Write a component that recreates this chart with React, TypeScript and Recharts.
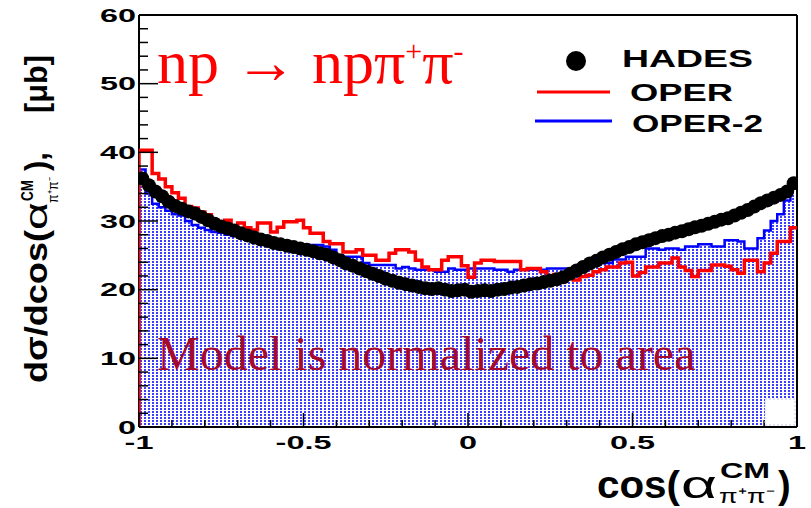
import React from 'react';
import { ComposedChart, Area, Line, Scatter, XAxis, YAxis, ReferenceLine } from 'recharts';

// Bin edges of cos(alpha) histograms (100 bins, width 0.02)
const binEdges = [
  -1.0, -0.98, -0.96, -0.94, -0.92, -0.9, -0.88, -0.86, -0.84, -0.82,
  -0.8, -0.78, -0.76, -0.74, -0.72, -0.7, -0.68, -0.66, -0.64, -0.62,
  -0.6, -0.58, -0.56, -0.54, -0.52, -0.5, -0.48, -0.46, -0.44, -0.42,
  -0.4, -0.38, -0.36, -0.34, -0.32, -0.3, -0.28, -0.26, -0.24, -0.22,
  -0.2, -0.18, -0.16, -0.14, -0.12, -0.1, -0.08, -0.06, -0.04, -0.02,
  0.0, 0.02, 0.04, 0.06, 0.08, 0.1, 0.12, 0.14, 0.16, 0.18,
  0.2, 0.22, 0.24, 0.26, 0.28, 0.3, 0.32, 0.34, 0.36, 0.38,
  0.4, 0.42, 0.44, 0.46, 0.48, 0.5, 0.52, 0.54, 0.56, 0.58,
  0.6, 0.62, 0.64, 0.66, 0.68, 0.7, 0.72, 0.74, 0.76, 0.78,
  0.8, 0.82, 0.84, 0.86, 0.88, 0.9, 0.92, 0.94, 0.96, 0.98,
  1.0,
];

// HADES data points (one per bin), microbarn
const hadesValues = [
  36.2, 35.2, 34.3, 33.6, 32.8, 32.2, 31.8, 31.4, 31.1, 30.6,
  30.1, 29.6, 29.2, 28.9, 28.6, 28.2, 27.9, 27.6, 27.3, 27.1,
  26.8, 26.6, 26.4, 26.2, 26.0, 25.8, 25.6, 25.3, 25.1, 24.7,
  24.3, 23.8, 23.5, 23.1, 22.7, 22.3, 22.0, 21.6, 21.3, 21.0,
  20.8, 20.6, 20.4, 20.2, 20.1, 20.2, 20.0, 19.8, 19.9, 20.0,
  19.7, 19.8, 19.9, 19.8, 20.0, 20.1, 20.3, 20.4, 20.6, 20.8,
  20.9, 21.1, 21.3, 21.5, 21.8, 22.3, 22.8, 23.3, 23.8, 24.2,
  24.7, 25.1, 25.5, 25.9, 26.2, 26.6, 26.9, 27.2, 27.5, 27.8,
  28.0, 28.3, 28.5, 28.8, 29.1, 29.3, 29.6, 29.9, 30.2, 30.4,
  30.8, 31.2, 31.6, 32.1, 32.6, 33.0, 33.4, 33.8, 34.3, 35.5,
];

// OPER model histogram
const operValues = [
  40.3, 40.3, 36.9, 36.1, 35.0, 34.1, 33.3, 32.1, 31.9, 31.3,
  30.9, 30.1, 29.9, 30.1, 29.0, 29.7, 29.0, 28.7, 29.7, 29.7,
  28.4, 29.1, 29.9, 29.9, 30.1, 29.0, 28.2, 28.2, 27.0, 26.7,
  26.7, 25.5, 25.5, 25.8, 25.0, 25.0, 24.3, 24.3, 25.3, 25.8,
  25.8, 25.5, 24.3, 23.3, 22.9, 22.9, 24.3, 24.8, 24.8, 23.5,
  21.8, 23.9, 24.3, 24.3, 24.1, 24.1, 24.1, 24.1, 22.9, 23.1,
  23.1, 22.6, 21.9, 22.2, 21.9, 21.7, 21.4, 21.9, 22.1, 22.6,
  22.9, 23.3, 23.3, 23.9, 24.0, 22.0, 22.5, 23.3, 23.3, 23.9,
  23.9, 24.6, 23.3, 22.8, 21.9, 22.8, 22.8, 23.6, 23.6, 23.4,
  22.9, 22.4, 24.3, 24.3, 22.6, 23.9, 25.3, 27.0, 27.0, 29.0,
];

// OPER-2 model histogram
const oper2Values = [
  37.5, 34.0, 32.5, 32.0, 31.5, 31.0, 30.8, 30.0, 29.4, 29.0,
  28.7, 28.4, 28.3, 28.0, 27.8, 27.6, 27.5, 27.2, 27.0, 26.9,
  26.8, 26.6, 26.5, 26.5, 26.4, 26.5, 26.5, 26.5, 26.3, 25.8,
  25.0, 24.8, 24.8, 24.8, 23.9, 23.6, 23.6, 23.6, 23.6, 23.1,
  23.3, 23.1, 22.9, 22.9, 22.9, 22.6, 22.6, 23.1, 22.9, 22.9,
  23.1, 23.1, 23.1, 23.1, 22.9, 22.9, 22.6, 22.9, 22.9, 22.9,
  22.9, 22.9, 23.1, 23.1, 23.1, 22.9, 22.9, 23.3, 23.3, 23.9,
  23.9, 23.9, 24.4, 24.4, 24.8, 24.8, 24.8, 26.0, 26.0, 25.8,
  26.0, 26.0, 25.8, 26.3, 26.3, 26.6, 26.6, 26.3, 26.3, 27.2,
  27.2, 27.0, 26.0, 26.0, 27.5, 28.6, 30.0, 31.0, 33.0, 35.8,
];

const xTicks = [
  -1, -0.9, -0.8, -0.7, -0.6, -0.5, -0.4, -0.3, -0.2, -0.1,
  0, 0.1, 0.2, 0.3, 0.4, 0.5, 0.6, 0.7, 0.8, 0.9, 1,
];
const yTicks = [
  0, 2, 4, 6, 8, 10, 12, 14, 16, 18, 20, 22, 24, 26, 28, 30,
  32, 34, 36, 38, 40, 42, 44, 46, 48, 50, 52, 54, 56, 58, 60,
];

const W = 811;
const H = 508;
const PLOT_LEFT = 139;
const PLOT_BOTTOM = 427;
const SANS = '"Liberation Sans", Arial, Helvetica, sans-serif';
const SERIF = '"Liberation Serif", "Times New Roman", serif';

// step histograms: a leading zero row gives the vertical edge at x = -1
const histRows = [
  { x: binEdges[0], oper: 0 },
  ...operValues.map((v, i) => ({ x: binEdges[i], oper: v, oper2: oper2Values[i] })),
  { x: binEdges[100], oper: operValues[99], oper2: oper2Values[99] },
];

const hadesRows = hadesValues.map((v, i) => ({
  x: (binEdges[i] + binEdges[i + 1]) / 2,
  hades: v,
}));

function XTick(props: any) {
  const { x, payload } = props;
  const v = payload.value as number;
  const major = Math.abs(v * 2 - Math.round(v * 2)) < 1e-6;
  return (
    <g>
      <line x1={x} x2={x} y1={PLOT_BOTTOM} y2={PLOT_BOTTOM - (major ? 14 : 7)} stroke="#000" strokeWidth={1.5} />
      {major && (
        <text
          transform={`translate(${x},449) scale(1.8,1)`}
          textAnchor="middle"
          fontFamily={SANS}
          fontWeight="bold"
          fontSize={18}
          fill="#000"
        >
          {String(v)}
        </text>
      )}
    </g>
  );
}

function YTick(props: any) {
  const { y, payload } = props;
  const v = payload.value as number;
  const major = v % 10 === 0;
  return (
    <g>
      <line x1={PLOT_LEFT} x2={PLOT_LEFT + (major ? 19 : 9)} y1={y} y2={y} stroke="#000" strokeWidth={1.5} />
      {major && (
        <text
          transform={`translate(136,${y + 6.5}) scale(1.8,1)`}
          textAnchor="end"
          fontFamily={SANS}
          fontWeight="bold"
          fontSize={18}
          fill="#000"
        >
          {String(v)}
        </text>
      )}
    </g>
  );
}

const renderDot = (p: any) => <circle cx={p.cx} cy={p.cy} r={7} fill="#000" />;

export default function App() {
  return (
    <div style={{ position: 'absolute', left: 0, top: 0, width: W, height: H, background: '#fff' }}>
      <ComposedChart width={W} height={H} data={histRows} margin={{ top: 15, right: 14, bottom: 0, left: 0 }}>
        <defs>
          <pattern id="blueDots" width="4" height="3" patternUnits="userSpaceOnUse">
            <rect width="4" height="3" fill="#ffffff" />
            <rect x="0" y="0" width="2" height="2" fill="#3c3cff" />
          </pattern>
        </defs>
        <XAxis
          type="number"
          dataKey="x"
          domain={[-1, 1]}
          ticks={xTicks}
          interval={0}
          tick={<XTick />}
          tickLine={false}
          axisLine={{ stroke: '#000', strokeWidth: 2 }}
          height={81}
          allowDataOverflow
        />
        <YAxis
          type="number"
          domain={[0, 60]}
          ticks={yTicks}
          interval={0}
          tick={<YTick />}
          tickLine={false}
          axisLine={false}
          width={139}
          allowDataOverflow
        />
        {/* frame: left edge (under the OPER histogram), top and right */}
        <ReferenceLine x={-1} stroke="#000" strokeWidth={2} />
        <ReferenceLine y={60} stroke="#000" strokeWidth={2} />
        <ReferenceLine x={1} stroke="#000" strokeWidth={2} />
        <Area
          type="stepAfter"
          dataKey="oper2"
          stroke="#0000ff"
          strokeWidth={2.5}
          fill="url(#blueDots)"
          fillOpacity={1}
          baseValue={0}
          connectNulls
          dot={false}
          activeDot={false}
          isAnimationActive={false}
        />
        <Scatter data={hadesRows} dataKey="hades" shape={renderDot} isAnimationActive={false} />
        <Line
          type="stepAfter"
          dataKey="oper"
          stroke="#ff0000"
          strokeWidth={3.5}
          dot={false}
          activeDot={false}
          connectNulls
          isAnimationActive={false}
        />
      </ComposedChart>

      <svg width={W} height={H} style={{ position: 'absolute', left: 0, top: 0, pointerEvents: 'none' }}>
        {/* small blank box in the lower right corner of the frame */}
        <rect x={765} y={399} width={30} height={26} fill="#ffffff" stroke="#c8c8e8" strokeWidth={1} strokeDasharray="2 2" />

        {/* reaction */}
        <text x={157} y={83} fontFamily={SERIF} fontSize={62} fill="#ff0000">
          np → npπ
          <tspan fontSize={30} dy={-22}>+</tspan>
          <tspan fontSize={62} dy={22}>π</tspan>
          <tspan fontSize={30} dy={-22}>-</tspan>
        </text>
        <text x={157} y={370} fontFamily={SERIF} fontSize={48} fill="#a50a2d">
          Model is normalized to area
        </text>

        {/* legend */}
        <circle cx={576} cy={61} r={10} fill="#000" />
        <text x={622} y={66.5} fontFamily={SANS} fontWeight="bold" fontSize={24} textLength={131} lengthAdjust="spacingAndGlyphs">HADES</text>
        <line x1={537} x2={610} y1={92} y2={92} stroke="#ff0000" strokeWidth={3} />
        <text x={630} y={100.5} fontFamily={SANS} fontWeight="bold" fontSize={24} textLength={103} lengthAdjust="spacingAndGlyphs">OPER</text>
        <line x1={535} x2={612} y1={121} y2={121} stroke="#0000ff" strokeWidth={3} />
        <text x={632} y={131.5} fontFamily={SANS} fontWeight="bold" fontSize={24} textLength={131} lengthAdjust="spacingAndGlyphs">OPER-2</text>

        {/* y axis title */}
        <g transform="translate(47,383) rotate(-90)" fontFamily={SANS} fill="#000">
          <text x={0} y={0} fontSize={31} fontWeight="bold" textLength={153} lengthAdjust="spacingAndGlyphs">dσ/dcos(</text>
          <text x={153} y={0} fontSize={32} textLength={28} lengthAdjust="spacingAndGlyphs">α</text>
          <text x={182} y={-14} fontSize={16} fontWeight="bold" textLength={21} lengthAdjust="spacingAndGlyphs">CM</text>
          <text x={180} y={11} fontSize={14} textLength={26} lengthAdjust="spacingAndGlyphs">π⁺π⁻</text>
          <text x={212} y={0} fontSize={31} fontWeight="bold">),</text>
          <text x={270} y={0} fontSize={31} fontWeight="bold" textLength={58} lengthAdjust="spacingAndGlyphs">[μb]</text>
        </g>

        {/* x axis title */}
        <g fontFamily={SANS} fill="#000">
          <text x={597} y={498} fontSize={38} fontWeight="bold" textLength={83} lengthAdjust="spacingAndGlyphs">cos(</text>
          <text x={681} y={498} fontSize={38} textLength={36} lengthAdjust="spacingAndGlyphs">α</text>
          <text x={720} y={478} fontSize={22} fontWeight="bold" textLength={50} lengthAdjust="spacingAndGlyphs">CM</text>
          <text x={719} y={503} fontSize={20} textLength={56} lengthAdjust="spacingAndGlyphs">π⁺π⁻</text>
          <text x={778} y={498} fontSize={38} fontWeight="bold">)</text>
        </g>
      </svg>
    </div>
  );
}
